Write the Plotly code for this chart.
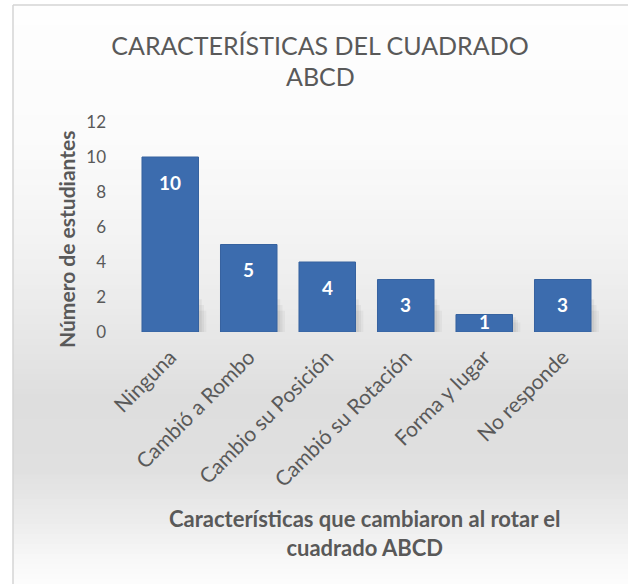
import plotly.graph_objects as go

categorias = ["Ninguna", "Cambió a Rombo", "Cambio su Posición",
              "Cambió su Rotación", "Forma y lugar", "No responde"]
estudiantes = [10, 5, 4, 3, 1, 3]
ticks_y = [0, 2, 4, 6, 8, 10, 12]

W, H = 628, 584
ML, MR, MT, MB = 131, 26, 122, 252
PW, PH = W - ML - MR, H - MT - MB

def px_x(px):
    return (px - ML) / PW

def px_y(py):
    return (H - MB - py) / PH

GRIS = "#595959"
FUENTE = "Lato, 'Open Sans', sans-serif"
ANCHO = 0.72

fig = go.Figure()
fig.add_trace(go.Bar(
    x=list(range(len(categorias))), y=estudiantes, width=ANCHO,
    marker=dict(color="#3c6cae", line=dict(color="#36629f", width=1)),
    hovertext=categorias, hoverinfo="text+y",
))

shapes = []

# background: soft vertical gradient, white -> light gray -> white
stops = [(0, 254), (140, 251), (240, 243), (320, 233), (400, 222), (470, 224),
         (520, 236), (560, 248), (584, 253)]
bands = 117
for i in range(bands):
    y0 = H * i / bands
    y1 = H * (i + 1) / bands
    ym = (y0 + y1) / 2
    g = stops[-1][1]
    for (a, ca), (b, cb) in zip(stops[:-1], stops[1:]):
        if a <= ym <= b:
            g = int(round(ca + (cb - ca) * (ym - a) / (b - a)))
            break
    shapes.append(dict(
        type="rect", xref="paper", yref="paper",
        x0=px_x(13), x1=px_x(W + 2), y0=px_y(y1 + 1), y1=px_y(max(y0, 5)),
        fillcolor=f"rgb({g},{g},{g})", line=dict(width=0), layer="below",
    ))

# soft shadow at the foot of each bar
for i, v in enumerate(estudiantes):
    h = min(v, 2.2)
    for k, (dx, op) in enumerate([(0.10, 0.05), (0.07, 0.06), (0.04, 0.07)]):
        shapes.append(dict(
            type="rect", xref="x", yref="y",
            x0=i - ANCHO / 2 + 0.05, x1=i + ANCHO / 2 + dx,
            y0=0, y1=h * (0.55 + 0.15 * k),
            fillcolor=f"rgba(60,60,60,{op})", line=dict(width=0), layer="below",
        ))

# frame
shapes.append(dict(type="line", xref="paper", yref="paper",
                   x0=px_x(13), x1=px_x(13), y0=px_y(H + 2), y1=px_y(5),
                   line=dict(color="#d4d4d4", width=1.5)))
shapes.append(dict(type="line", xref="paper", yref="paper",
                   x0=px_x(13), x1=px_x(W + 2), y0=px_y(5), y1=px_y(5),
                   line=dict(color="#d4d4d4", width=1.5)))

# value labels near the top of each bar
annotations = []
for i, v in enumerate(estudiantes):
    annotations.append(dict(
        x=i, y=v, xref="x", yref="y", text=f"<b>{v}</b>", showarrow=False,
        yshift=-25 if v > 1 else -7, font=dict(color="white", size=19, family=FUENTE),
    ))

# second title line
annotations.append(dict(
    x=px_x(320), xref="paper", y=px_y(76), yref="paper", text="ABCD",
    showarrow=False, xanchor="center", yanchor="middle",
    font=dict(size=25, color=GRIS, family=FUENTE),
))

# y-axis title
annotations.append(dict(
    x=px_x(66), xref="paper", y=px_y(240), yref="paper",
    text="<b>Número de estudiantes</b>", textangle=-90,
    showarrow=False, xanchor="center", yanchor="middle",
    font=dict(size=21, color=GRIS, family=FUENTE),
))

# x-axis title
annotations.append(dict(
    x=px_x(364), xref="paper", y=px_y(533), yref="paper",
    text="<b>Características que cambiaron al rotar el<br>cuadrado ABCD</b>",
    showarrow=False, font=dict(size=22, color=GRIS, family=FUENTE),
    xanchor="center", yanchor="middle", align="center",
))

fig.update_layout(
    width=W, height=H,
    margin=dict(l=ML, r=MR, t=MT, b=MB, autoexpand=False),
    paper_bgcolor="white", plot_bgcolor="rgba(0,0,0,0)",
    showlegend=False,
    title=dict(text="CARACTERÍSTICAS DEL CUADRADO",
               x=320 / W, xanchor="center", y=1 - 46 / H, yanchor="middle",
               font=dict(size=25, color=GRIS, family=FUENTE)),
    xaxis=dict(tickmode="array", tickvals=list(range(len(categorias))),
               ticktext=categorias, range=[-0.5, len(categorias) - 0.5],
               tickangle=-45, showgrid=False, showline=False, zeroline=False,
               ticklabelstandoff=8,
               tickfont=dict(size=21, color=GRIS, family=FUENTE), ticks=""),
    yaxis=dict(range=[0, 12], tickvals=ticks_y, showgrid=False, showline=False,
               zeroline=False, ticks="", ticklabelstandoff=24,
               tickfont=dict(size=17, color=GRIS, family=FUENTE)),
    annotations=annotations, shapes=shapes,
)

fig.write_html("out.html")
